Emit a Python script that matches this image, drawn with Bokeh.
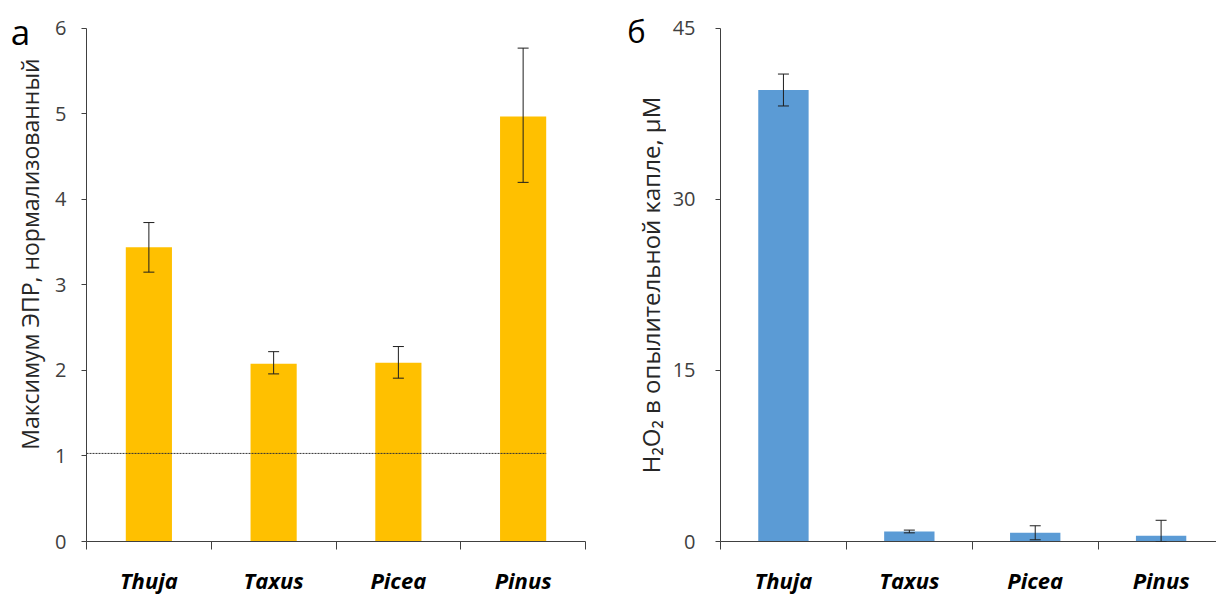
import math
from bokeh.plotting import figure
from bokeh.layouts import row
from bokeh.models import (Range1d, FixedTicker, ColumnDataSource, Whisker, TeeHead)
from bokeh.core.properties import value
from bokeh.embed import file_html
from bokeh.resources import INLINE

# Species on the category axis
species = ["Thuja", "Taxus", "Picea", "Pinus"]

# Panel а: normalised EPR maximum
epr_mean = [3.44, 2.08, 2.09, 4.97]
epr_low = [3.15, 1.96, 1.91, 4.20]
epr_high = [3.73, 2.22, 2.28, 5.77]
epr_baseline = 1.03
epr_ticks = [0, 1, 2, 3, 4, 5, 6]

# Panel б: H2O2 in the pollination drop, µM
h2o2_mean = [39.6, 0.88, 0.76, 0.50]
h2o2_low = [38.2, 0.76, 0.15, 0.0]
h2o2_high = [41.0, 1.00, 1.38, 1.86]
h2o2_ticks = [0, 15, 30, 45]

FONT = "Open Sans"
AXIS_COLOR = "#404040"
TICK_TEXT = "#404040"
ERR_COLOR = "#1e1e1e"
HEIGHT = 597
BOTTOM = 55            # space under the category axis
HEADROOM = 28          # free pixels above the top tick
STRIP_W = 46
FRAME_H = HEIGHT - BOTTOM


def make_strip(letter, letter_x, letter_size, ylabel, label_x, label_y, label_size):
    """Narrow text column holding the panel letter and the y-axis title.
    Its ranges are in pixels, y counted downwards from the top."""
    s = figure(width=STRIP_W, height=HEIGHT, output_backend="svg",
               toolbar_location=None, x_range=Range1d(0, STRIP_W),
               y_range=Range1d(FRAME_H, 0), x_axis_type=None, y_axis_type=None,
               min_border=0, min_border_bottom=BOTTOM)
    s.outline_line_color = None
    s.xgrid.visible = False
    s.ygrid.visible = False
    s.text(x=[letter_x], y=[31], text=[letter], text_align="center",
           text_baseline="middle", text_font=value(FONT),
           text_font_size=letter_size, text_color="black")
    s.text(x=[label_x], y=[label_y], text=[ylabel], angle=math.pi / 2,
           text_align="center", text_baseline="middle", text_font=value(FONT),
           text_font_size=label_size, text_color="#262626")
    return s


def make_panel(values, low, high, ticks, xmax, color, bar_w,
               width, border_left, border_right, x_standoff, y_standoff):
    n = len(species)
    centers = [i + 0.5 for i in range(n)]
    src = ColumnDataSource(dict(x=centers, top=values, low=low, high=high))
    ymax = ticks[-1]
    # extend the range so the top tick sits HEADROOM pixels below the frame top
    y_end = ymax * FRAME_H / (FRAME_H - HEADROOM)

    p = figure(width=width, height=HEIGHT, output_backend="svg",
               toolbar_location=None, x_range=Range1d(0, xmax),
               y_range=Range1d(0, y_end),
               min_border_left=border_left, min_border_right=border_right,
               min_border_top=0, min_border_bottom=BOTTOM)
    p.outline_line_color = None
    p.xgrid.visible = False
    p.ygrid.visible = False
    p.background_fill_color = "white"
    p.border_fill_color = "white"

    p.vbar(x="x", top="top", bottom=0, width=bar_w, source=src,
           fill_color=color, line_color=None)

    err = Whisker(base="x", lower="low", upper="high", source=src,
                  line_color=ERR_COLOR, line_width=1, level="overlay",
                  upper_head=TeeHead(size=11, line_color=ERR_COLOR, line_width=1),
                  lower_head=TeeHead(size=11, line_color=ERR_COLOR, line_width=1))
    p.add_layout(err)

    # category axis: boundary ticks as minor ticks, names at the centres
    xa = p.xaxis[0]
    xa.ticker = FixedTicker(ticks=centers, minor_ticks=list(range(n + 1)))
    xa.major_label_overrides = {c: s for c, s in zip(centers, species)}
    xa.major_tick_out = 0
    xa.major_tick_in = 0
    xa.minor_tick_out = 8
    xa.minor_tick_in = 0
    xa.minor_tick_line_color = AXIS_COLOR
    xa.axis_line_color = AXIS_COLOR
    xa.major_label_standoff = x_standoff
    xa.major_label_text_font = FONT
    xa.major_label_text_font_style = "bold italic"
    xa.major_label_text_font_size = "22px"
    xa.major_label_text_color = "black"

    ya = p.yaxis[0]
    ya.ticker = FixedTicker(ticks=ticks)
    ya.bounds = (0, ymax)
    ya.major_tick_out = 5
    ya.major_tick_in = 0
    ya.minor_tick_out = 0
    ya.minor_tick_in = 0
    ya.axis_line_color = AXIS_COLOR
    ya.major_tick_line_color = AXIS_COLOR
    ya.major_label_text_font = FONT
    ya.major_label_text_font_size = "20px"
    ya.major_label_text_color = TICK_TEXT
    ya.major_label_standoff = y_standoff
    return p, centers


strip_left = make_strip("а", 20, "35px", "Максимум ЭПР, нормализованный",
                        29, 254, "23px")
left, lc = make_panel(epr_mean, epr_low, epr_high, epr_ticks, 4, "#FFC000",
                      0.37, width=620 - STRIP_W, border_left=86 - STRIP_W,
                      border_right=35, x_standoff=15, y_standoff=15)

# dotted reference level of the untreated control
left.segment(x0=[0], x1=[lc[-1] + 0.37 / 2], y0=[epr_baseline], y1=[epr_baseline],
             line_color="#333333", line_width=1, line_dash="2 1")

strip_right = make_strip("б", 16, "31px", "H₂O₂ в опылительной капле, µM",
                         30, 285, "24px")
right, rc = make_panel(h2o2_mean, h2o2_low, h2o2_high, h2o2_ticks, 3.94,
                       "#5B9BD5", 0.40, width=1216 - 620 - STRIP_W,
                       border_left=720 - 620 - STRIP_W, border_right=0,
                       x_standoff=15, y_standoff=20)

layout = row(strip_left, left, strip_right, right, spacing=0)
open("out.html", "w").write(file_html(layout, INLINE))
